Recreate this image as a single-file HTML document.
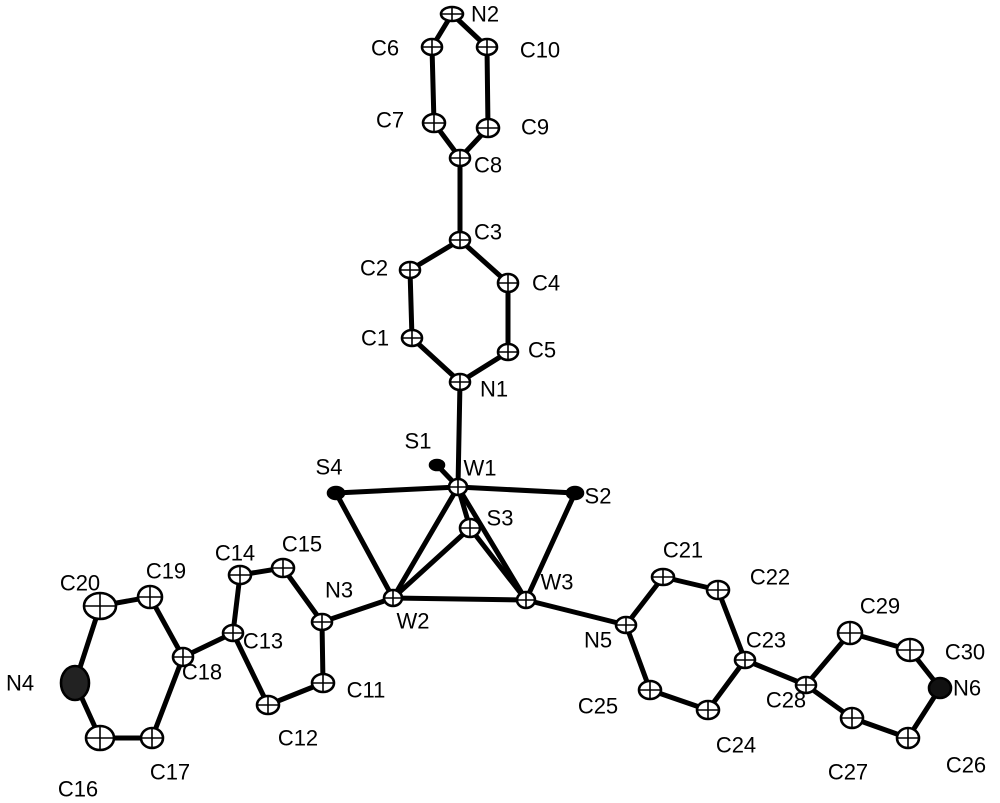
<!DOCTYPE html>
<html><head><meta charset="utf-8"><style>
html,body{margin:0;padding:0;background:#fff;}
svg{display:block;}
text{font-family:"Liberation Sans",sans-serif;font-size:22px;fill:#000;text-anchor:middle;dominant-baseline:central;}
line{stroke:#000;stroke-width:5;stroke-linecap:round;}
ellipse{fill:#fff;stroke:#000;stroke-width:2.6;}
line.ax{stroke-width:1.6;}
</style></head><body>
<svg id="s" width="1000" height="803" viewBox="0 0 1000 803" xmlns="http://www.w3.org/2000/svg">
<g id="bonds">
<line x1="452" y1="14" x2="432" y2="47"/><line x1="452" y1="14" x2="487" y2="47"/>
<line x1="432" y1="47" x2="434" y2="123"/><line x1="487" y1="47" x2="488" y2="128"/>
<line x1="434" y1="123" x2="460" y2="158"/><line x1="488" y1="128" x2="460" y2="158"/>
<line x1="460" y1="158" x2="460" y2="240"/>
<line x1="460" y1="240" x2="410" y2="270"/><line x1="460" y1="240" x2="508" y2="283"/>
<line x1="410" y1="270" x2="412" y2="338"/><line x1="508" y1="283" x2="508" y2="352"/>
<line x1="412" y1="338" x2="460" y2="382"/><line x1="508" y1="352" x2="460" y2="382"/>
<line x1="460" y1="382" x2="458" y2="487"/>
<line x1="458" y1="487" x2="437" y2="465"/>
<line x1="458" y1="487" x2="336" y2="493"/><line x1="458" y1="487" x2="575" y2="493"/>
<line x1="458" y1="487" x2="470" y2="528"/>
<line x1="458" y1="487" x2="393" y2="598"/><line x1="458" y1="487" x2="526" y2="600"/>
<line x1="336" y1="493" x2="393" y2="598"/><line x1="575" y1="493" x2="526" y2="600"/>
<line x1="470" y1="528" x2="393" y2="598"/><line x1="470" y1="528" x2="526" y2="600"/>
<line x1="393" y1="598" x2="526" y2="600"/>
<line x1="393" y1="598" x2="322" y2="622"/><line x1="526" y1="600" x2="626" y2="625"/>
<line x1="322" y1="622" x2="283" y2="568"/><line x1="322" y1="622" x2="323" y2="683"/>
<line x1="283" y1="568" x2="240" y2="575"/><line x1="240" y1="575" x2="233" y2="633"/>
<line x1="233" y1="633" x2="268" y2="705"/><line x1="268" y1="705" x2="323" y2="683"/>
<line x1="233" y1="633" x2="183" y2="657"/>
<line x1="183" y1="657" x2="150" y2="597"/><line x1="183" y1="657" x2="152" y2="738"/>
<line x1="150" y1="597" x2="100" y2="606"/><line x1="100" y1="606" x2="75" y2="683"/>
<line x1="75" y1="683" x2="100" y2="738"/><line x1="100" y1="738" x2="152" y2="738"/>
<line x1="626" y1="625" x2="663" y2="577"/><line x1="626" y1="625" x2="650" y2="690"/>
<line x1="663" y1="577" x2="718" y2="590"/><line x1="718" y1="590" x2="745" y2="660"/>
<line x1="745" y1="660" x2="708" y2="710"/><line x1="708" y1="710" x2="650" y2="690"/>
<line x1="745" y1="660" x2="806" y2="685"/>
<line x1="806" y1="685" x2="850" y2="633"/><line x1="806" y1="685" x2="852" y2="718"/>
<line x1="850" y1="633" x2="910" y2="650"/><line x1="910" y1="650" x2="940" y2="688"/>
<line x1="940" y1="688" x2="908" y2="738"/><line x1="908" y1="738" x2="852" y2="718"/>
</g>
<g id="atoms">
<ellipse cx="452" cy="14" rx="11" ry="7"/>
<ellipse cx="432" cy="47" rx="10" ry="8"/><ellipse cx="487" cy="47" rx="10" ry="8"/>
<ellipse cx="434" cy="123" rx="11" ry="9"/><ellipse cx="488" cy="128" rx="11" ry="9"/>
<ellipse cx="460" cy="158" rx="10" ry="8"/><ellipse cx="460" cy="240" rx="10" ry="8"/>
<ellipse cx="410" cy="270" rx="10" ry="8"/><ellipse cx="508" cy="283" rx="10" ry="9"/>
<ellipse cx="412" cy="338" rx="10" ry="8"/><ellipse cx="508" cy="352" rx="10" ry="8"/>
<ellipse cx="460" cy="382" rx="10" ry="8"/>
<ellipse cx="437" cy="465" rx="7" ry="5" style="fill:#000"/>
<ellipse cx="458" cy="487" rx="9" ry="8"/>
<ellipse cx="336" cy="493" rx="8" ry="6" style="fill:#000"/>
<ellipse cx="575" cy="493" rx="8" ry="6" style="fill:#000"/>
<ellipse cx="470" cy="528" rx="10" ry="9"/>
<ellipse cx="393" cy="598" rx="9" ry="8"/><ellipse cx="526" cy="600" rx="9" ry="8"/>
<ellipse cx="322" cy="622" rx="10" ry="8"/><ellipse cx="626" cy="625" rx="10" ry="8"/>
<ellipse cx="283" cy="568" rx="11" ry="9"/><ellipse cx="240" cy="575" rx="11" ry="9"/>
<ellipse cx="233" cy="633" rx="10" ry="8"/><ellipse cx="323" cy="683" rx="11" ry="9"/>
<ellipse cx="268" cy="705" rx="11" ry="9"/><ellipse cx="183" cy="657" rx="10" ry="9"/>
<ellipse cx="150" cy="597" rx="12" ry="11"/><ellipse cx="100" cy="606" rx="16" ry="13"/>
<ellipse cx="75" cy="683" rx="14" ry="17" style="fill:#222"/>
<ellipse cx="100" cy="738" rx="14" ry="12"/><ellipse cx="152" cy="738" rx="11" ry="10"/>
<ellipse cx="663" cy="577" rx="11" ry="8"/><ellipse cx="718" cy="590" rx="11" ry="9"/>
<ellipse cx="745" cy="660" rx="10" ry="8"/><ellipse cx="708" cy="710" rx="11" ry="9"/>
<ellipse cx="650" cy="690" rx="11" ry="9"/><ellipse cx="806" cy="685" rx="10" ry="8"/>
<ellipse cx="850" cy="633" rx="12" ry="11"/><ellipse cx="910" cy="650" rx="13" ry="11"/>
<ellipse cx="940" cy="688" rx="11" ry="10" style="fill:#111"/>
<ellipse cx="908" cy="738" rx="11" ry="10"/><ellipse cx="852" cy="718" rx="11" ry="10"/>
</g>
<g id="labels">
<text x="485" y="14">N2</text><text x="385" y="48">C6</text><text x="540" y="50">C10</text>
<text x="390" y="120">C7</text><text x="535" y="127">C9</text><text x="488" y="165">C8</text>
<text x="488" y="232">C3</text><text x="374" y="268">C2</text><text x="546" y="283">C4</text>
<text x="375" y="338">C1</text><text x="542" y="350">C5</text><text x="494" y="389">N1</text>
<text x="418" y="441">S1</text><text x="480" y="468">W1</text><text x="329" y="467">S4</text>
<text x="598" y="496">S2</text><text x="500" y="518">S3</text><text x="413" y="621">W2</text>
<text x="557" y="582">W3</text><text x="339" y="590">N3</text><text x="302" y="544">C15</text>
<text x="235" y="553">C14</text><text x="263" y="641">C13</text><text x="366" y="690">C11</text>
<text x="298" y="738">C12</text><text x="202" y="672">C18</text><text x="166" y="571">C19</text>
<text x="80" y="583">C20</text><text x="20" y="683">N4</text><text x="78" y="789">C16</text>
<text x="170" y="772">C17</text><text x="598" y="640">N5</text><text x="683" y="550">C21</text>
<text x="770" y="577">C22</text><text x="766" y="640">C23</text><text x="736" y="745">C24</text>
<text x="598" y="706">C25</text><text x="786" y="700">C28</text><text x="880" y="606">C29</text>
<text x="965" y="652">C30</text><text x="967" y="688">N6</text><text x="966" y="765">C26</text>
<text x="848" y="772">C27</text>
</g>
</svg>
<script>
(function(){var s=document.getElementById('s'),g=document.createElementNS('http://www.w3.org/2000/svg','g');
document.querySelectorAll('#atoms ellipse').forEach(function(e){var cx=+e.getAttribute('cx'),cy=+e.getAttribute('cy'),rx=+e.getAttribute('rx'),ry=+e.getAttribute('ry');
if(e.getAttribute('style'))return;
[[cx-rx,cy,cx+rx,cy],[cx,cy-ry,cx,cy+ry]].forEach(function(p){var l=document.createElementNS('http://www.w3.org/2000/svg','line');l.setAttribute('class','ax');l.setAttribute('x1',p[0]);l.setAttribute('y1',p[1]);l.setAttribute('x2',p[2]);l.setAttribute('y2',p[3]);g.appendChild(l);});});
s.insertBefore(g,document.getElementById('labels'));})();
</script>
</body></html>
